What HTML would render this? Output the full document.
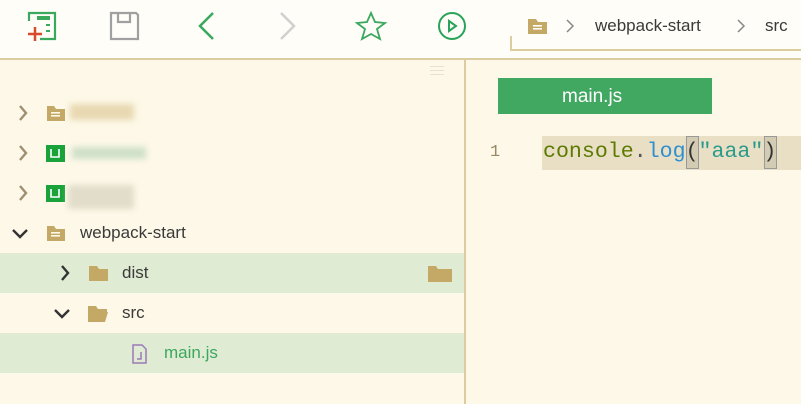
<!DOCTYPE html>
<html><head><meta charset="utf-8"><style>
*{margin:0;padding:0;box-sizing:border-box}
body{width:801px;height:404px;overflow:hidden;background:#fdf8e7;font-family:"Liberation Sans","Noto Sans CJK SC",sans-serif;position:relative}
.abs{position:absolute}
.tb{left:0;top:0;width:801px;height:58px;background:#fefdf8}
.row{position:absolute;left:0;width:464px;height:40px}
.hl{background:#e0ebd4}
.t{position:absolute;font-size:17px;color:#3a3a3a}
.blur{position:absolute;filter:blur(3px)}
</style></head><body>
<div class="abs tb"></div>
<div class="abs" style="left:0;top:58px;width:801px;height:2px;background:#dccca0"></div>
<div class="abs" style="left:510px;top:0;width:291px;height:51px;background:#fefdf8;border-left:2px solid #dccca0;border-bottom:2px solid #dccca0;clip-path:inset(36px 0 0 0)"></div>
<svg class="abs" style="left:0;top:0" width="500" height="58">
<g fill="none" stroke-width="2.2">
<path d="M29 21V13h26v26H40" stroke="#3aa85d"/>
<rect x="37" y="16" width="13" height="4" fill="#3aa85d" stroke="none"/>
<rect x="46" y="24" width="4" height="2" fill="#3aa85d" stroke="none"/>
<rect x="46" y="30" width="4" height="2" fill="#3aa85d" stroke="none"/>
<path d="M28 34h14M35 27v14" stroke="#d84a2a" stroke-width="2.5"/>
<path d="M111 13h25l2 2v24h-27z" stroke="#a0a0a0"/>
<path d="M118 13v9h12v-9" stroke="#a0a0a0"/>
<path d="M213 13l-13 13 13 13" stroke="#3aa85d" stroke-width="2.5"/>
<path d="M281 13l13 13-13 13" stroke="#d0d0d0" stroke-width="2.5"/>
<path d="M371 13l4 9 10 1-8 6 3 10-9-5-9 5 3-10-8-6 10-1z" stroke="#3aa85d" stroke-width="1.8"/>
<circle cx="452" cy="26" r="13" stroke="#2aa35a" stroke-width="2"/>
<path d="M449 21v10l7-5z" stroke="#2aa35a" stroke-width="2"/>
</g></svg>
<svg class="abs" style="left:527px;top:17px" width="22" height="18"><path d="M1 2h8l2 3h9v12H1z" fill="#c4a865"/><rect x="6" y="8" width="9" height="1.6" fill="#fefdf8"/><rect x="6" y="11" width="9" height="1.6" fill="#fefdf8"/></svg>
<svg class="abs" style="left:560px;top:16px" width="200" height="20"><path d="M7 4l6 6-6 6M178 4l6 6-6 6" stroke="#888" stroke-width="1.5" fill="none"/></svg>
<div class="t" style="left:595px;top:16px">webpack-start</div>
<div class="t" style="left:765px;top:16px">src</div>
<div class="abs" style="left:464px;top:60px;width:2px;height:344px;background:#dccca0"></div>
<div class="abs" style="left:430px;top:66px;width:14px;height:1px;background:#e8e2cc;box-shadow:0 4px 0 #e8e2cc,0 8px 0 #e8e2cc"></div>
<div class="row hl" style="top:253px"></div>
<div class="row hl" style="top:333px"></div>
<svg class="abs" style="left:0;top:60px" width="464" height="344">
<g fill="none" stroke-width="2.4">
<path d="M20 46l6 7-6 7M20 86l6 7-6 7M20 126l6 7-6 7" stroke="#a08f70"/>
<path d="M13 170l7 7 7-7" stroke="#333"/>
<path d="M62 206l6 7-6 7" stroke="#333"/>
<path d="M55 250l7 7 7-7" stroke="#333"/>
</g>
<path d="M47 46h7l2 3h9v12H47z" fill="#c4a865"/><rect x="51" y="52" width="9" height="1.6" fill="#fdf8e7"/><rect x="51" y="55" width="9" height="1.6" fill="#fdf8e7"/>
<path d="M47 166h7l2 3h9v12H47z" fill="#c4a865"/><rect x="51" y="172" width="9" height="1.6" fill="#fdf8e7"/><rect x="51" y="175" width="9" height="1.6" fill="#fdf8e7"/>
<rect x="46" y="85" width="19" height="17" fill="#1aa33a"/><path d="M51 89v8h8v-8" stroke="#fff" stroke-width="1.6" fill="none"/>
<rect x="46" y="125" width="19" height="17" fill="#1aa33a"/><path d="M51 129v8h8v-8" stroke="#fff" stroke-width="1.6" fill="none"/>
<path d="M89 206h8l2 3h9v12H89z" fill="#c4a865"/>
<path d="M88 246h8l2 3h9v3H93l-4 10h-1z" fill="#c4a865"/><path d="M92 252h16l-3 10H88z" fill="#c4a865"/>
<path d="M428 206h8l2 3h14v13H428z" fill="#c4a865"/>
<path d="M133 285h9l4 4v14h-13z" fill="none" stroke="#9b7bb8" stroke-width="1.5"/><path d="M141 292v7h-4" stroke="#9b7bb8" stroke-width="1.5" fill="none"/>
</svg>
<div class="blur" style="left:70px;top:104px;width:64px;height:16px;background:#e8d9b2"></div>
<div class="blur" style="left:72px;top:147px;width:74px;height:12px;background:#cfe0c8"></div>
<div class="blur" style="left:68px;top:185px;width:66px;height:24px;background:#e2dccb"></div>
<div class="t" style="left:80px;top:223px">webpack-start</div>
<div class="t" style="left:122px;top:263px">dist</div>
<div class="t" style="left:122px;top:303px">src</div>
<div class="t" style="left:164px;top:343px;color:#3aa85d">main.js</div>
<div class="abs" style="left:498px;top:78px;width:214px;height:36px;background:#41a862"></div>
<div class="t" style="left:562px;top:86px;color:#fff;font-size:19px">main.js</div>
<div class="abs" style="left:542px;top:136px;width:259px;height:34px;background:#e8dfc5"></div>
<div class="abs" style="left:686px;top:136px;width:13px;height:33px;background:#d4ccb2;border:1px solid #999"></div>
<div class="abs" style="left:764px;top:136px;width:13px;height:33px;background:#d4ccb2;border:1px solid #999"></div>
<div class="abs" style="left:490px;top:143px;font-family:'Liberation Mono',monospace;font-size:17px;color:#998866">1</div>
<div class="abs" style="left:543px;top:140px;font-family:'Liberation Mono',monospace;font-size:21.6px;white-space:pre"><span style="color:#5c7a00">console</span><span style="color:#555">.</span><span style="color:#2f8fd0">log</span><span style="color:#333">(</span><span style="color:#2a9a8a">"aaa"</span><span style="color:#333">)</span></div>
</body></html>
